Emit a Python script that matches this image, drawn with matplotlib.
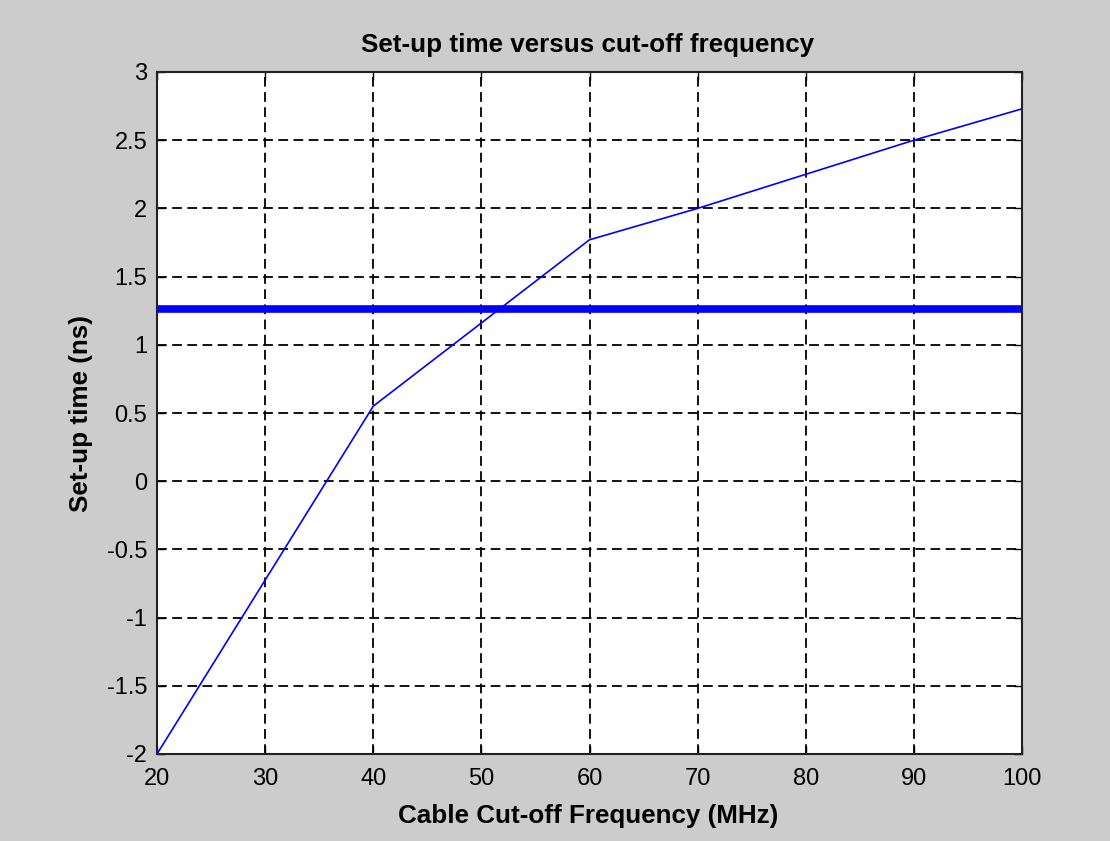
import matplotlib
matplotlib.use("Agg")
import matplotlib.pyplot as plt

# Cable cut-off frequency (MHz) and resulting set-up time (ns)
freq_mhz = [20, 40, 60, 70, 80, 90, 100]
setup_ns = [-2.0, 0.55, 1.77, 2.0, 2.25, 2.5, 2.73]
required_ns = 1.26

x_ticks = [20, 30, 40, 50, 60, 70, 80, 90, 100]
y_ticks = [-2, -1.5, -1, -0.5, 0, 0.5, 1, 1.5, 2, 2.5, 3]
y_labels = ["-2", "-1.5", "-1", "-0.5", "0", "0.5", "1", "1.5", "2", "2.5", "3"]

font = ["Liberation Sans", "DejaVu Sans"]
tick_size = 17
label_size = 18.7

W, H = 1110, 841
fig = plt.figure(figsize=(W / 100, H / 100), dpi=100, facecolor="#cccccc")
ax = fig.add_axes([157 / W, 1 - 754 / H, (1022 - 157) / W, (754 - 72) / H])
ax.set_facecolor("white")

ax.plot(freq_mhz, setup_ns, color="#0000ff", linewidth=1.2)
ax.axhline(required_ns, color="#0000ff", linewidth=5.5)

ax.set_xlim(20, 100)
ax.set_ylim(-2, 3)
ax.set_xticks(x_ticks)
ax.set_yticks(y_ticks)
ax.set_yticklabels(y_labels)
ax.grid(True, color="black", linestyle=(0, (5.4, 3)), linewidth=1.3)
ax.tick_params(direction="in", length=6, width=1, top=True, right=True,
               labelsize=tick_size)
ax.tick_params(axis="x", pad=10)
ax.tick_params(axis="y", pad=7)
for lbl in ax.get_xticklabels() + ax.get_yticklabels():
    lbl.set_family(font)
for s in ax.spines.values():
    s.set_linewidth(1.5)
    s.set_color("#222222")

fig.text(588 / W, 1 - 52 / H, "Set-up time versus cut-off frequency",
         ha="center", va="baseline", fontsize=label_size, fontweight="bold",
         family=font)
fig.text(588 / W, 1 - 823 / H, "Cable Cut-off Frequency (MHz)",
         ha="center", va="baseline", fontsize=label_size, fontweight="bold",
         family=font)
fig.text(88 / W, 1 - 414 / H, "Set-up time (ns)", rotation=90,
         rotation_mode="anchor", ha="center", va="baseline",
         fontsize=label_size, fontweight="bold", family=font)

fig.savefig("out.png", dpi=100, facecolor=fig.get_facecolor())
